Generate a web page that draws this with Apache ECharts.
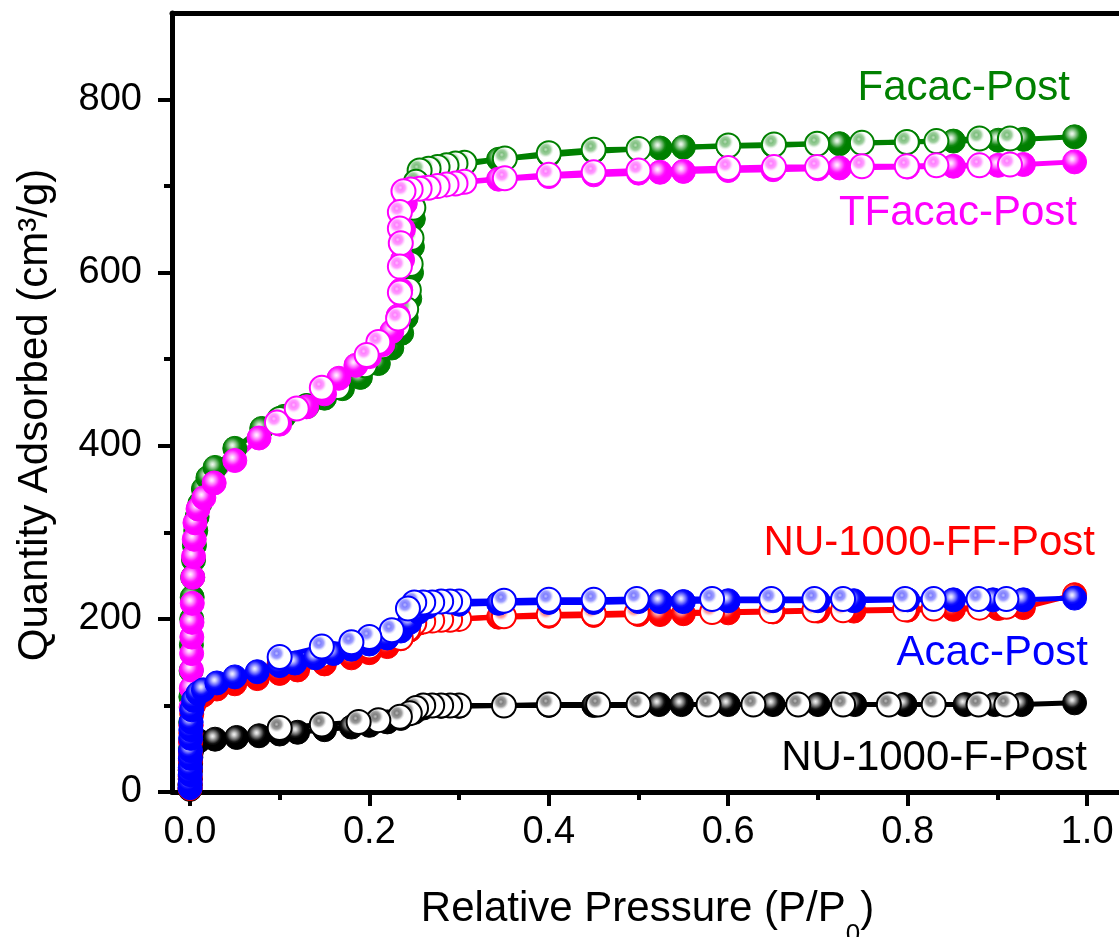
<!DOCTYPE html>
<html>
<head>
<meta charset="utf-8">
<script src="https://cdn.jsdelivr.net/npm/echarts@6/dist/echarts.min.js"></script>
<style>
html,body{margin:0;padding:0;background:#fff;}
#chart{width:1119px;height:937px;}
</style>
</head>
<body>
<div id="chart"></div>
<script>
// ---------------- data (P/P0, cm3/g) ----------------
const xTickValues = [0, 0.2, 0.4, 0.6, 0.8, 1.0];
const xMinorValues = [0.1, 0.3, 0.5, 0.7, 0.9];
const yTickValues = [0, 200, 400, 600, 800];
const yMinorValues = [100, 300, 500, 700];

const seriesNames = ['Facac-Post', 'TFacac-Post', 'NU-1000-FF-Post', 'Acac-Post', 'NU-1000-F-Post'];
const yTitle = 'Quantity Adsorbed (cm³/g)';

const facacAds = [[0.0002,8],[0.0004,25],[0.0006,50],[0.0008,80],[0.001,110],[0.0013,140],[0.0016,170],[0.002,200],[0.0025,225],[0.003,248],[0.004,268],[0.005,285],[0.0065,302],[0.008,318],[0.011,333],[0.015,350],[0.02,363],[0.028,375],[0.05,397],[0.08,420],[0.105,434],[0.13,446],[0.15,455],[0.17,466],[0.19,479],[0.21,495],[0.225,513],[0.236,530],[0.241,548],[0.245,570],[0.247,600],[0.248,630],[0.249,662],[0.252,695],[0.26,714],[0.3,724],[0.344,731],[0.4,736],[0.45,740],[0.5,743],[0.524,744],[0.55,745],[0.6,746],[0.65,747],[0.7,749],[0.724,749],[0.8,751],[0.851,752],[0.901,753],[0.929,754],[0.986,757]];
const facacDes = [[0.914,755],[0.88,755],[0.832,752],[0.799,751],[0.749,750],[0.699,749],[0.651,748],[0.6,747],[0.5,743],[0.45,742],[0.4,738],[0.351,732],[0.306,727],[0.296,726],[0.286,724],[0.276,722],[0.266,720],[0.256,718],[0.252,705],[0.249,675],[0.247,640],[0.246,610],[0.244,580],[0.241,558],[0.232,538],[0.215,515],[0.195,493],[0.165,468],[0.13,446],[0.1,431]];

const tfacacAds = [[0.0003,5],[0.0005,14],[0.0007,35],[0.0009,57],[0.0011,77],[0.0013,98],[0.0015,120],[0.0017,141],[0.0019,160],[0.0021,179],[0.0023,196],[0.0026,218],[0.0032,248],[0.004,272],[0.0048,292],[0.0056,311],[0.009,327],[0.0155,340],[0.027,357],[0.05,383],[0.077,409],[0.1,425],[0.13,445],[0.15,460],[0.166,478],[0.185,493],[0.2,503],[0.215,517],[0.225,532],[0.232,550],[0.235,580],[0.237,615],[0.238,650],[0.24,680],[0.245,694],[0.26,698],[0.3,704],[0.344,708],[0.4,711],[0.45,713],[0.5,715],[0.524,716],[0.55,717],[0.6,718],[0.65,719],[0.7,720],[0.724,721],[0.8,722],[0.851,723],[0.901,724],[0.929,725],[0.986,728]];
const tfacacDes = [[0.914,725],[0.88,724],[0.832,724],[0.799,723],[0.749,723],[0.699,722],[0.651,722],[0.6,721],[0.5,718],[0.45,716],[0.4,713],[0.351,709],[0.306,705],[0.296,703],[0.286,702],[0.276,700],[0.266,698],[0.256,697],[0.246,696],[0.238,694],[0.234,670],[0.234,651],[0.235,634],[0.234,607],[0.234,577],[0.232,547],[0.21,520],[0.197,505],[0.147,467],[0.119,443],[0.097,427]];

const nuffAds = [[0.0001,4],[0.0002,9],[0.0003,18],[0.0004,26],[0.0005,36],[0.0006,45],[0.0008,58],[0.001,68],[0.0013,77],[0.002,90],[0.004,100],[0.009,108],[0.015,112],[0.03,119],[0.05,125],[0.075,131],[0.1,137],[0.12,141],[0.15,148],[0.18,155],[0.2,161],[0.22,168],[0.235,177],[0.245,187],[0.255,195],[0.27,198],[0.3,200],[0.344,202],[0.4,203],[0.45,204],[0.5,205],[0.524,205],[0.55,206],[0.6,207],[0.65,208],[0.7,209],[0.74,209],[0.8,210],[0.851,211],[0.901,212],[0.929,213],[0.986,228]];
const nuffDes = [[0.91,214],[0.88,213],[0.829,212],[0.797,211],[0.728,210],[0.696,210],[0.648,209],[0.582,208],[0.498,207],[0.45,206],[0.4,205],[0.35,203],[0.3,200],[0.29,199],[0.28,199],[0.27,198],[0.26,197],[0.25,195],[0.243,188],[0.235,178],[0.2,168],[0.147,158],[0.1,148]];

const acacAds = [[0.0001,5],[0.0002,10],[0.0003,20],[0.0004,28],[0.0005,39],[0.0006,48],[0.0008,62],[0.001,72],[0.0013,81],[0.002,95],[0.004,106],[0.009,114],[0.015,118],[0.03,126],[0.05,133],[0.075,139],[0.1,146],[0.117,149],[0.14,155],[0.16,160],[0.18,165],[0.2,171],[0.22,178],[0.235,186],[0.245,196],[0.255,208],[0.265,214],[0.3,217],[0.344,218],[0.4,219],[0.45,219],[0.5,220],[0.524,220],[0.55,220],[0.6,221],[0.65,221],[0.7,221],[0.74,221],[0.8,222],[0.851,222],[0.895,222],[0.929,222],[0.986,224]];
const acacDes = [[0.91,223],[0.879,223],[0.829,223],[0.797,223],[0.728,223],[0.696,223],[0.648,223],[0.582,223],[0.498,223],[0.45,222],[0.4,222],[0.35,221],[0.3,220],[0.29,220],[0.28,220],[0.27,219],[0.26,219],[0.25,219],[0.243,212],[0.225,187],[0.2,179],[0.18,173],[0.147,168],[0.1,156]];

const nufAds = [[0.0001,3],[0.0002,8],[0.0003,15],[0.0005,25],[0.0007,33],[0.001,40],[0.0015,46],[0.002,50],[0.003,53],[0.005,56],[0.01,59],[0.028,61],[0.052,63],[0.077,65],[0.1,67],[0.12,69],[0.15,72],[0.18,75],[0.2,77],[0.22,81],[0.235,85],[0.25,92],[0.26,97],[0.28,99],[0.3,99],[0.35,100],[0.4,100],[0.45,100],[0.5,100],[0.523,101],[0.548,101],[0.6,101],[0.65,101],[0.7,101],[0.741,101],[0.797,101],[0.864,101],[0.897,101],[0.927,101],[0.986,103]];
const nufDes = [[0.91,101],[0.879,101],[0.829,101],[0.779,101],[0.728,101],[0.678,101],[0.628,101],[0.578,101],[0.5,101],[0.455,101],[0.4,101],[0.35,100],[0.3,100],[0.29,100],[0.28,100],[0.27,100],[0.26,100],[0.252,97],[0.245,91],[0.234,87],[0.21,83],[0.188,81],[0.147,78],[0.1,74]];

// ---------------- styling ----------------
const colors = ['#008000', '#ff00ff', '#ff0000', '#0000ff', '#000000'];
const branches = [
  [facacAds, facacDes],
  [tfacacAds, tfacacDes],
  [nuffAds, nuffDes],
  [acacAds, acacDes],
  [nufAds, nufDes]
];
// drawing order (bottom to top): Facac, TFacac, NU-1000-F, NU-1000-FF, Acac
const drawOrder = [0, 1, 4, 2, 3];

function mix(hex, t) {
  const r = parseInt(hex.slice(1,3),16), g = parseInt(hex.slice(3,5),16), b = parseInt(hex.slice(5,7),16);
  const f = v => Math.round(v + (255 - v) * t);
  return 'rgb(' + f(r) + ',' + f(g) + ',' + f(b) + ')';
}
function fillGrad(c) {
  return {type:'radial', x:0.4, y:0.38, r:0.62, colorStops:[
    {offset:0, color:mix(c,0.95)},{offset:0.12, color:mix(c,0.8)},{offset:0.3, color:mix(c,0.45)},{offset:0.48, color:mix(c,0.08)},{offset:0.6, color:c},{offset:1, color:c}]};
}
function openGrad(c) {
  return {type:'radial', x:0.38, y:0.36, r:0.62, colorStops:[
    {offset:0, color:mix(c,0.75)},{offset:0.14, color:mix(c,0.5)},{offset:0.3, color:mix(c,0.62)},{offset:0.42, color:mix(c,0.9)},{offset:0.5, color:'#ffffff'},{offset:1, color:'#ffffff'}]};
}

const FONT = 'Arial, "Liberation Sans", sans-serif';
const series = [];
drawOrder.forEach(i => {
  const pair = branches[i];
  const c = colors[i];
  [0, 1].forEach(k => {
    series.push({
      type: 'line',
      name: seriesNames[i] + (k ? ' des' : ' ads'),
      data: pair[k],
      xAxisIndex: 0, yAxisIndex: 0,
      symbol: 'circle',
      symbolSize: 24,
      showAllSymbol: true,
      animation: false,
      silent: true,
      lineStyle: {color: c, width: 5},
      itemStyle: k ? {color: openGrad(c), borderColor: c, borderWidth: 2}
                   : {color: fillGrad(c), borderColor: c, borderWidth: 1},
      emphasis: {disabled: true}
    });
  });
});

const X_MIN = -0.02, X_MAX = 1.04, Y_MIN = 0, Y_MAX = 900;

const chart = echarts.init(document.getElementById('chart'), null, {renderer: 'canvas'});
chart.setOption({
  animation: false,
  backgroundColor: '#ffffff',
  grid: {left: 172, top: 13, right: -4, bottom: 145, containLabel: false, outerBoundsMode: 'none'},
  xAxis: [
    {type:'value', position:'bottom', min:X_MIN, max:X_MAX,
     axisLine:{show:true, onZero:false, lineStyle:{color:'#000', width:5}},
     axisTick:{show:true, length:14, lineStyle:{width:4, color:'#000'}, customValues: xTickValues},
     axisLabel:{show:true, fontSize:38, color:'#000', fontFamily:FONT, margin:22, customValues: xTickValues,
       formatter: v => v.toFixed(1)},
     splitLine:{show:false},
     name:'{a|Relative Pressure (P/P}{s|0}{a|)}', nameLocation:'middle', nameGap:78,
     nameTextStyle:{rich:{a:{fontSize:42, fontFamily:FONT, color:'#000', lineHeight:50, verticalAlign:'middle'},
                          s:{fontSize:26, fontFamily:FONT, color:'#000', lineHeight:78, verticalAlign:'bottom'}}}
    },
    {type:'value', position:'bottom', min:X_MIN, max:X_MAX,
     axisLine:{show:false, onZero:false}, axisLabel:{show:false}, splitLine:{show:false},
     axisTick:{show:true, length:8, lineStyle:{width:4, color:'#000'}, customValues: xMinorValues}
    },
    {type:'value', position:'top', min:X_MIN, max:X_MAX,
     axisLine:{show:true, onZero:false, lineStyle:{color:'#000', width:5}},
     axisTick:{show:false}, axisLabel:{show:false}, splitLine:{show:false}
    }
  ],
  yAxis: [
    {type:'value', position:'left', min:Y_MIN, max:Y_MAX,
     axisLine:{show:true, onZero:false, lineStyle:{color:'#000', width:5}},
     axisTick:{show:true, length:14, lineStyle:{width:4, color:'#000'}, customValues: yTickValues},
     axisLabel:{show:true, fontSize:38, color:'#000', fontFamily:FONT, margin:30, customValues: yTickValues},
     splitLine:{show:false}
    },
    {type:'value', position:'left', min:Y_MIN, max:Y_MAX,
     axisLine:{show:false, onZero:false}, axisLabel:{show:false}, splitLine:{show:false},
     axisTick:{show:true, length:8, lineStyle:{width:4, color:'#000'}, customValues: yMinorValues}
    }
  ],
  graphic: [
    {type:'text', x: 35, y: 415, rotation: Math.PI / 2,
     style:{text: yTitle, fill:'#000', font:'42px ' + FONT, textAlign:'center', textVerticalAlign:'middle'}},
    {type:'text', right: 1119-1070, top: 87-20, style:{text: seriesNames[0], fill: colors[0], font: '42px ' + FONT}},
    {type:'text', right: 1119-1077, top: 212-20, style:{text: seriesNames[1], fill: colors[1], font: '42px ' + FONT}},
    {type:'text', right: 1119-1095, top: 542-20, style:{text: seriesNames[2], fill: colors[2], font: '42px ' + FONT}},
    {type:'text', right: 1119-1088, top: 652-20, style:{text: seriesNames[3], fill: colors[3], font: '42px ' + FONT}},
    {type:'text', right: 1119-1087, top: 757-20, style:{text: seriesNames[4], fill: colors[4], font: '42px ' + FONT}}
  ],
  series: series
});
</script>
</body>
</html>
